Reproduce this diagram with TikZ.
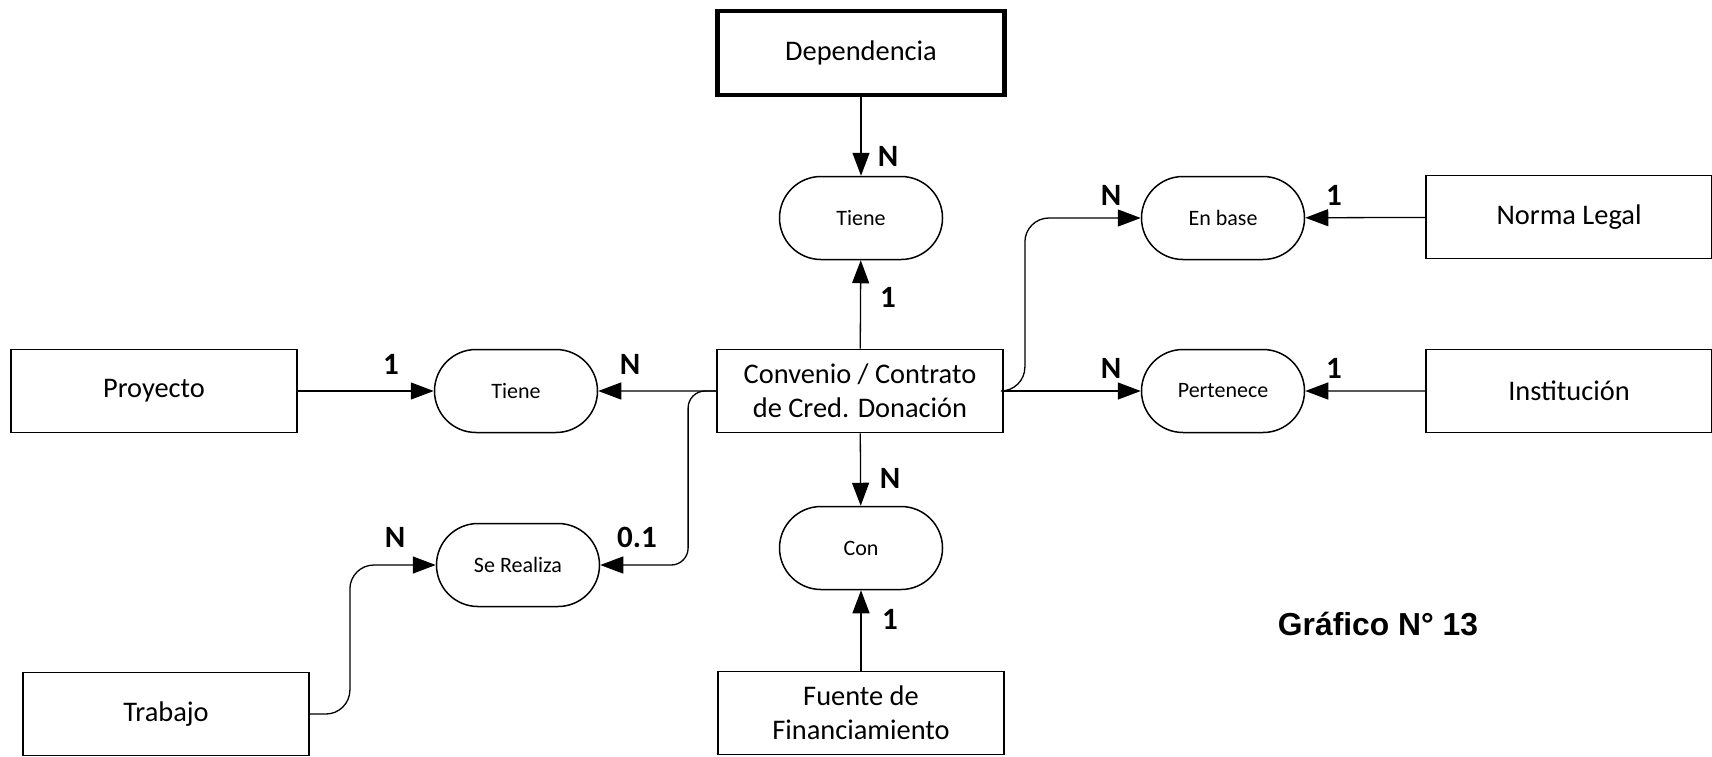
\documentclass[tikz,border=0pt]{standalone}
\usepackage{fontspec}
\setmainfont{Carlito}
\newfontfamily\titlefont{Liberation Sans}
\usetikzlibrary{arrows.meta,shapes.misc}

\tikzset{
  entity/.style={draw, line width=1.8pt, minimum width=286pt, minimum height=83pt,
    inner sep=0pt, align=center, font=\fontsize{28.4}{34}\selectfont},
  strongentity/.style={entity, line width=4.5pt, minimum width=287pt, minimum height=84pt},
  relation/.style={draw, line width=1.5pt, rounded rectangle, minimum width=163pt,
    minimum height=83pt, inner sep=0pt, font=\fontsize{22}{26}\selectfont},
  link/.style={line width=1.3pt, -{Triangle[length=23pt,width=17pt]}},
  card/.style={font=\fontsize{31}{31}\selectfont\bfseries, inner sep=0pt}
}

\begin{document}
\begin{tikzpicture}[x=1pt,y=-1pt]
\useasboundingbox (0,0) rectangle (1712,756);

% entities
\node[strongentity] (dep) at (861,53) {Dependencia};
\node[entity] (conv) at (860,391) {Convenio / Contrato\\de Cred. Donación};
\node[entity] (fuente) at (861,713) {Fuente de\\Financiamiento};
\node[entity] (proy) at (154,391) {Proyecto};
\node[entity] (trab) at (166,714) {Trabajo};
\node[entity] (norma) at (1569,217) {Norma Legal};
\node[entity] (inst) at (1569,391) {Institución};

% relationships
\node[relation] (tieneA) at (861,218) {Tiene};
\node[relation] (con) at (861,548) {Con};
\node[relation] (tieneB) at (516,391) {Tiene};
\node[relation] (realiza) at (518,565) {Se Realiza};
\node[relation] (enbase) at (1223,218) {En base};
\node[relation] (pert) at (1223,391) {Pertenece};

% connectors
\draw[link] (dep) -- (tieneA);
\draw[link] (conv) -- (tieneA);
\draw[link] (conv) -- (con);
\draw[link] (fuente) -- (con);
\draw[link] (proy) -- (tieneB);
\draw[link] (conv) -- (tieneB);
\draw[link, rounded corners=17pt] (conv.west) -- ++(-28,0) |- (realiza.east);
\draw[link, rounded corners=24pt] (trab.east) -- ++(40,0) |- (realiza.west);
\draw[link] (conv) -- (pert);
\draw[link, rounded corners=24pt] (conv.east) -- ++(21,0) |- (enbase.west);
\draw[link] (norma) -- (enbase);
\draw[link] (inst) -- (pert);

% cardinalities
\node[card] (cDep) at (888,156) {N};
\node[card] (cTieneA) at (888,297) {1};
\node[card] (cConvB) at (630,364) {N};
\node[card] (cProy) at (391,364) {1};
\node[card] (cTrab) at (395,537) {N};
\node[card] (cConvR) at (637,537) {0.1};
\node[card] (cCon) at (890,478) {N};
\node[card] (cFuente) at (890,619) {1};
\node[card] (cEnbase) at (1111,195) {N};
\node[card] (cNorma) at (1334,195) {1};
\node[card] (cPert) at (1111,368) {N};
\node[card] (cInst) at (1334,368) {1};

% caption
\node[font=\titlefont\fontsize{31.8}{32}\selectfont\bfseries, inner sep=0pt] (titulo) at (1378,624) {Gráfico N° 13};
\end{tikzpicture}
\end{document}
